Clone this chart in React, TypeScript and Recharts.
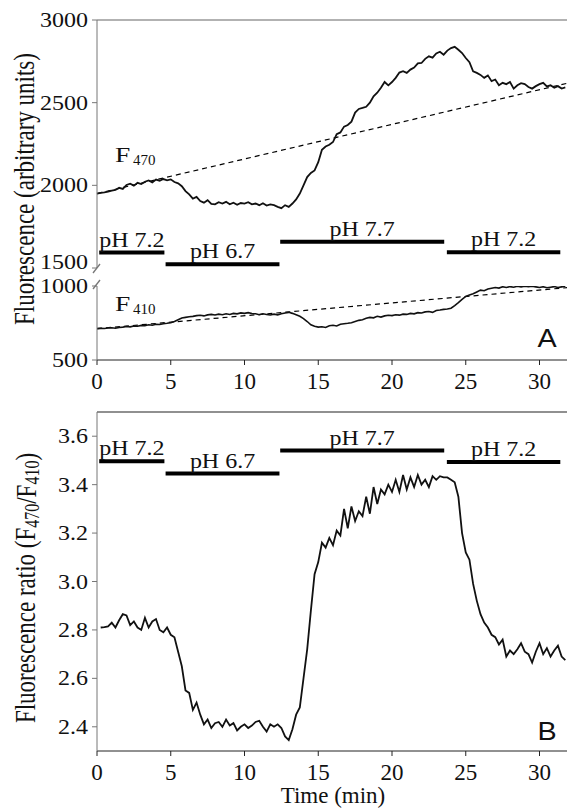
import React from "react";
import { LineChart, Line, XAxis, YAxis, ReferenceLine } from "recharts";

// sampling step of the traces (min)
const STEP = 0.25;

// F470 emission (arbitrary units), t = 0 .. 31.75
const f470 = [
  1950, 1955, 1958, 1962, 1968, 1972, 1985, 1978, 2002, 2010, 1998, 2015, 2008, 2022, 2030, 2018,
  2035, 2028, 2038, 2030, 2036, 2020, 2012, 1995, 1965, 1945, 1920, 1930, 1905, 1895, 1910, 1888,
  1885, 1898, 1890, 1900, 1885, 1895, 1882, 1893, 1890, 1898, 1885, 1890, 1880, 1892, 1878, 1885,
  1880, 1870, 1862, 1880, 1870, 1890, 1915, 1950, 2000, 2050, 2075, 2090, 2140, 2215, 2235, 2245,
  2262, 2310, 2320, 2355, 2365, 2385, 2440, 2462, 2468, 2475, 2500, 2538, 2560, 2590, 2625, 2605,
  2625, 2650, 2682, 2690, 2680, 2700, 2712, 2738, 2740, 2765, 2780, 2772, 2798, 2808, 2790, 2815,
  2830, 2838, 2820, 2800, 2770, 2745, 2690, 2680, 2668, 2650, 2665, 2630, 2640, 2605, 2620, 2612,
  2625, 2585, 2605, 2618, 2612, 2595, 2585, 2600, 2612, 2620, 2598, 2605, 2590, 2600, 2585, 2592,
];

// F410 emission (arbitrary units)
const f410 = [
  712, 714, 713, 716, 718, 715, 720, 722, 726, 724, 730, 728, 734, 732, 738, 735,
  742, 740, 745, 748, 752, 760, 772, 784, 788, 792, 795, 800, 802, 798, 805, 808,
  804, 810, 806, 812, 808, 815, 812, 818, 815, 820, 814, 812, 806, 812, 808, 804,
  810, 805, 812, 818, 822, 815, 805, 795, 780, 760, 738, 728, 722, 725, 720, 732,
  735, 730, 742, 745, 748, 752, 760, 768, 772, 782, 788, 785, 795, 790, 798, 802,
  800, 806, 803, 810, 808, 815, 812, 820, 818, 825, 828, 822, 835, 838, 842, 845,
  850, 868, 888, 910, 930, 940, 948, 960, 972, 968, 980, 985, 990, 986, 995, 990,
  996, 992, 998, 994, 999, 996, 998, 994, 990, 995, 988, 992, 996, 990, 994, 998,
];

// ratio F470/F410
const ratio = [
  null, 2.81, 2.812, 2.815, 2.83, 2.81, 2.84, 2.865, 2.86, 2.82, 2.835, 2.81, 2.8, 2.85, 2.81, 2.835,
  2.845, 2.8, 2.79, 2.81, 2.78, 2.77, 2.71, 2.65, 2.55, 2.54, 2.47, 2.5, 2.45, 2.41, 2.43, 2.395,
  2.415, 2.42, 2.4, 2.43, 2.405, 2.415, 2.385, 2.4, 2.41, 2.395, 2.405, 2.42, 2.425, 2.4, 2.38, 2.41,
  2.4, 2.41, 2.395, 2.36, 2.345, 2.39, 2.45, 2.48, 2.6, 2.72, 2.88, 3.03, 3.08, 3.16, 3.14, 3.18,
  3.15, 3.21, 3.19, 3.3, 3.22, 3.31, 3.25, 3.29, 3.27, 3.35, 3.28, 3.39, 3.32, 3.38, 3.36, 3.4,
  3.37, 3.42, 3.37, 3.44, 3.38, 3.43, 3.39, 3.44, 3.4, 3.42, 3.39, 3.435, 3.42, 3.435, 3.43, 3.43,
  3.42, 3.41, 3.35, 3.2, 3.12, 3.09, 2.99, 2.92, 2.865, 2.83, 2.81, 2.78, 2.77, 2.74, 2.76, 2.69,
  2.715, 2.7, 2.72, 2.745, 2.71, 2.7, 2.665, 2.71, 2.745, 2.7, 2.725, 2.69, 2.715, 2.735, 2.69, 2.675,
];

// dashed baselines (end points)
const baseTimes = [0, 32];
const f470Base = [1950, 2620];
const f410Base = [712, 990];

// perfusion bars
const phLabels = ["pH 7.2", "pH 6.7", "pH 7.7", "pH 7.2"];
const phStart = [0.15, 4.65, 12.42, 23.72];
const phEnd = [4.57, 12.37, 23.54, 31.41];
const phLevelA = [1593, 1522, 1659, 1595];
const phLevelB = [3.497, 3.446, 3.541, 3.494];

const timeTicks = [0, 5, 10, 15, 20, 25, 30];
const topTicks = [1500, 2000, 2500, 3000];
const bottomTicks = [500, 1000];
const ratioTicks = [2.4, 2.6, 2.8, 3.0, 3.2, 3.4, 3.6];

const rows = f470.map((v, i) => ({ t: i * STEP, f470: v, f410: f410[i], ratio: ratio[i] }));
const base470 = baseTimes.map((t, i) => ({ t, base: f470Base[i] }));
const base410 = baseTimes.map((t, i) => ({ t, base: f410Base[i] }));

const SERIF = "Times New Roman, Liberation Serif, Times, serif";
const SANS = "Liberation Sans, Arial, sans-serif";
const Y_AXIS = "#777";
const X_AXIS = "#222";

const xTickStyle = { fontFamily: SERIF, fontSize: 23, fill: "#111" };

function yTick(digits: number) {
  return (props: any) => {
    const { x, y, payload } = props;
    const shift = payload.value === 1500 ? -6 : 0;
    return (
      <text
        transform={`translate(${x},${y + shift}) scale(1.2,1)`}
        textAnchor="end"
        dy="0.355em"
        style={{ fontFamily: SERIF }}
        fontSize={20}
        fill="#111"
      >
        {Number(payload.value).toFixed(digits)}
      </text>
    );
  };
}

function phLabel(text: string) {
  return (props: any) => {
    const vb = props.viewBox || {};
    const cx = (vb.x ?? 0) + (vb.width ?? 0) / 2;
    const y = (vb.y ?? 0) - 6;
    return (
      <text
        transform={`translate(${cx},${y}) scale(1.2,1)`}
        textAnchor="middle"
        style={{ fontFamily: SERIF }}
        fontSize={20}
        fill="#111"
      >
        {text}
      </text>
    );
  };
}

function phBars(levels: number[]) {
  return phLabels.map((txt, i) => (
    <ReferenceLine
      key={"ph" + i}
      segment={[
        { x: phStart[i], y: levels[i] },
        { x: phEnd[i], y: levels[i] },
      ]}
      stroke="#000"
      strokeWidth={4}
      label={phLabel(txt)}
    />
  ));
}

export default function App() {
  return (
    <div
      style={{
        position: "absolute",
        left: 0,
        top: 0,
        width: 567,
        height: 809,
        overflow: "hidden",
        background: "#fff",
      }}
    >
      {/* Panel A, upper part (F470) */}
      <div style={{ position: "absolute", left: 0, top: 0 }}>
        <LineChart width={569} height={282} data={rows} margin={{ top: 20, right: 0, bottom: 14, left: 0 }}>
          <XAxis type="number" dataKey="t" domain={[0, 32]} hide />
          <YAxis
            width={97}
            domain={[1500, 3000]}
            ticks={topTicks}
            interval={0}
            allowDataOverflow
            stroke={Y_AXIS}
            tickSize={5}
            tickMargin={4}
            tick={yTick(0)}
          />
          <ReferenceLine y={3000} stroke="#666" strokeWidth={1.2} />
          <Line
            data={base470}
            dataKey="base"
            stroke="#000"
            strokeWidth={1.2}
            strokeDasharray="5 4"
            dot={false}
            isAnimationActive={false}
          />
          <Line dataKey="f470" stroke="#111" strokeWidth={1.8} dot={false} isAnimationActive={false} />
          {phBars(phLevelA)}
        </LineChart>
      </div>

      {/* Panel A, lower part (F410) */}
      <div style={{ position: "absolute", left: 0, top: 270 }}>
        <LineChart width={569} height={134} data={rows} margin={{ top: 16, right: 0, bottom: 0, left: 0 }}>
          <XAxis
            type="number"
            dataKey="t"
            domain={[0, 32]}
            ticks={timeTicks}
            interval={0}
            height={44}
            stroke={X_AXIS}
            tickSize={5}
            tickMargin={8}
            tick={xTickStyle}
          />
          <YAxis
            width={97}
            domain={[500, 1000]}
            ticks={bottomTicks}
            interval={0}
            allowDataOverflow
            stroke={Y_AXIS}
            tickSize={5}
            tickMargin={4}
            tick={yTick(0)}
          />
          <Line
            data={base410}
            dataKey="base"
            stroke="#000"
            strokeWidth={1.2}
            strokeDasharray="5 4"
            dot={false}
            isAnimationActive={false}
          />
          <Line dataKey="f410" stroke="#111" strokeWidth={1.6} dot={false} isAnimationActive={false} />
        </LineChart>
      </div>

      {/* Panel B, ratio */}
      <div style={{ position: "absolute", left: 0, top: 390 }}>
        <LineChart width={569} height={405} data={rows} margin={{ top: 22, right: 0, bottom: 0, left: 0 }}>
          <XAxis
            type="number"
            dataKey="t"
            domain={[0, 32]}
            ticks={timeTicks}
            interval={0}
            height={44}
            stroke={X_AXIS}
            tickSize={5}
            tickMargin={8}
            tick={xTickStyle}
          />
          <YAxis
            width={97}
            domain={[2.3, 3.7]}
            ticks={ratioTicks}
            interval={0}
            allowDataOverflow
            stroke={Y_AXIS}
            tickSize={5}
            tickMargin={4}
            tick={yTick(1)}
          />
          <ReferenceLine y={3.7} stroke={X_AXIS} strokeWidth={1.2} />
          <Line dataKey="ratio" stroke="#111" strokeWidth={1.8} dot={false} isAnimationActive={false} />
          {phBars(phLevelB)}
        </LineChart>
      </div>

      {/* labels and axis break */}
      <svg
        width={567}
        height={809}
        style={{ position: "absolute", left: 0, top: 0, pointerEvents: "none", fontFamily: SERIF }}
      >
        <line x1={93} y1={273} x2={100} y2={264} stroke={Y_AXIS} strokeWidth={1.3} />
        <line x1={93} y1={289} x2={100} y2={280} stroke={Y_AXIS} strokeWidth={1.3} />

        <text
          transform="translate(24,189) rotate(-90) scale(1,1.28)"
          textAnchor="middle"
          dominantBaseline="central"
          fontSize={23}
          fill="#111"
        >
          Fluorescence (arbitrary units)
        </text>
        <text
          transform="translate(26,588) rotate(-90) scale(1,1.25)"
          textAnchor="middle"
          dominantBaseline="central"
          fontSize={23}
          fill="#111"
        >
          Fluorescence ratio (F
          <tspan fontSize={16} dy={5}>470</tspan>
          <tspan dy={-5}>/F</tspan>
          <tspan fontSize={16} dy={5}>410</tspan>
          <tspan dy={-5}>)</tspan>
        </text>

        <text transform="translate(115,162) scale(1.25,1)" fontSize={22} fill="#111">
          F
        </text>
        <text x={133} y={165} fontSize={15} fill="#111">
          470
        </text>
        <text transform="translate(115,311) scale(1.25,1)" fontSize={22} fill="#111">
          F
        </text>
        <text x={133} y={314} fontSize={15} fill="#111">
          410
        </text>

        <text
          transform="translate(547,347) scale(1.15,1)"
          textAnchor="middle"
          style={{ fontFamily: SANS }}
          fontSize={25}
          fill="#111"
        >
          A
        </text>
        <text
          transform="translate(547,740) scale(1.15,1)"
          textAnchor="middle"
          style={{ fontFamily: SANS }}
          fontSize={25}
          fill="#111"
        >
          B
        </text>

        <text x={333} y={803} textAnchor="middle" fontSize={23} fill="#111">
          Time (min)
        </text>
      </svg>
    </div>
  );
}
